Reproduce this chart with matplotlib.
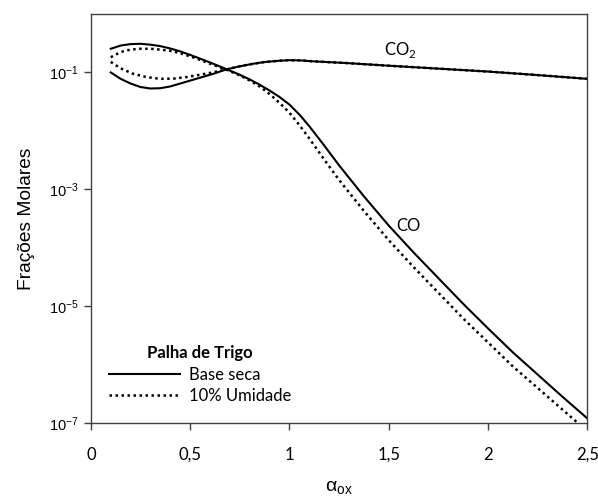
# Frações molares de CO e CO2 vs alpha_ox (palha de trigo)
import numpy as np
import matplotlib
matplotlib.use("Agg")
import matplotlib.pyplot as plt
from matplotlib.lines import Line2D

# log10 das fracoes
co_seca_x = [0.10, 0.15, 0.20, 0.25, 0.30, 0.35, 0.40, 0.45, 0.50, 0.57, 0.63,
             0.68, 0.75, 0.80, 0.85, 0.90, 0.95, 1.00, 1.05, 1.10, 1.175, 1.25,
             1.375, 1.50, 1.625, 1.75, 1.875, 2.00, 2.125, 2.25, 2.375, 2.50]
co_seca_log = [-0.595, -0.54, -0.515, -0.51, -0.525, -0.55, -0.59, -0.64, -0.70,
               -0.79, -0.87, -0.94, -1.04, -1.12, -1.21, -1.31, -1.42, -1.55,
               -1.72, -1.92, -2.25, -2.59, -3.12, -3.62, -4.08, -4.52, -4.96,
               -5.38, -5.79, -6.17, -6.55, -6.92]

co_umid_x = [0.10, 0.15, 0.20, 0.25, 0.30, 0.35, 0.40, 0.45, 0.53, 0.60, 0.68,
             0.75, 0.80, 0.85, 0.90, 0.95, 1.00, 1.05, 1.10, 1.175, 1.25, 1.375,
             1.50, 1.625, 1.75, 1.875, 2.00, 2.125, 2.25, 2.375, 2.50]
co_umid_log = [-0.74, -0.65, -0.61, -0.595, -0.595, -0.61, -0.63, -0.67, -0.76,
               -0.85, -0.95, -1.05, -1.14, -1.24, -1.37, -1.52, -1.69, -1.90,
               -2.13, -2.49, -2.84, -3.37, -3.87, -4.33, -4.77, -5.21, -5.62,
               -6.03, -6.40, -6.77, -7.14]

co2_seca_x = [0.10, 0.15, 0.20, 0.25, 0.30, 0.35, 0.40, 0.45, 0.50, 0.55, 0.62,
              0.68, 0.75, 0.82, 0.88, 0.95, 1.00, 1.06, 1.12, 1.29, 1.50, 1.75,
              2.00, 2.25, 2.50]
co2_seca_log = [-1.00, -1.11, -1.19, -1.25, -1.275, -1.27, -1.24, -1.19, -1.14,
                -1.09, -1.02, -0.95, -0.895, -0.85, -0.82, -0.80, -0.79, -0.795,
                -0.81, -0.84, -0.885, -0.935, -0.985, -1.045, -1.11]

co2_umid_x = [0.10, 0.15, 0.21, 0.28, 0.35, 0.42, 0.48, 0.55, 0.62, 0.68, 0.75,
              0.82, 0.88, 0.95, 1.00, 1.06, 1.12, 1.29, 1.50, 1.75, 2.00, 2.25,
              2.50]
co2_umid_log = [-0.82, -0.93, -1.02, -1.08, -1.11, -1.105, -1.08, -1.04, -0.995,
                -0.95, -0.895, -0.85, -0.82, -0.80, -0.79, -0.795, -0.81, -0.84,
                -0.885, -0.935, -0.985, -1.045, -1.11]

x_ticks = [0, 0.5, 1, 1.5, 2, 2.5]
x_labels = ["0", "0,5", "1", "1,5", "2", "2,5"]
y_ticks = [1e-7, 1e-5, 1e-3, 1e-1]
y_labels = [r"$\mathregular{10^{-7}}$", r"$\mathregular{10^{-5}}$",
            r"$\mathregular{10^{-3}}$", r"$\mathregular{10^{-1}}$"]

DOT = (0, (1, 1.4))
CAL = "Lato"
ARIAL = "Liberation Sans"

fig = plt.figure(figsize=(5.98, 5.0), dpi=100)
ax = fig.add_axes([0.152, 0.154, 0.830, 0.818])

def pw(v):
    return 10 ** np.array(v)

ax.plot(co_seca_x, pw(co_seca_log), color="black", lw=1.5)
ax.plot(co_umid_x, pw(co_umid_log), color="black", lw=1.8, ls=DOT)
ax.plot(co2_seca_x, pw(co2_seca_log), color="black", lw=1.5)
ax.plot(co2_umid_x, pw(co2_umid_log), color="black", lw=1.8, ls=DOT)

ax.set_yscale("log")
ax.set_xlim(0, 2.5)
ax.set_ylim(1e-7, 1)
ax.minorticks_off()
ax.set_xticks(x_ticks, labels=x_labels, fontfamily=CAL, fontsize=12)
ax.set_yticks(y_ticks, labels=y_labels, fontfamily=ARIAL, fontsize=10.5)
ax.tick_params(direction="out", length=5, width=1, color="#404040", pad=4)
ax.tick_params(axis="x", pad=12)

for s in ax.spines.values():
    s.set_color("#404040")
    s.set_linewidth(1)

ax.set_ylabel("Frações Molares", fontfamily=ARIAL, fontsize=13.8, labelpad=10)
ax.set_xlabel(r"α$_\mathregular{ox}$", fontfamily=ARIAL, fontsize=14, labelpad=12)

ax.text(1.56, 10 ** -0.62, r"CO$_\mathregular{2}$", fontfamily=CAL,
        fontsize=12, ha="center", va="center")
ax.text(1.60, 10 ** -3.62, "CO", fontfamily=CAL, fontsize=12,
        ha="center", va="center")

# legenda: titulo separado para acertar o espacamento
ax.text(0.22, 0.171, "Palha de Trigo", transform=ax.transAxes, fontfamily=CAL,
        fontsize=12, fontweight="bold", ha="center", va="center")
handles = [Line2D([], [], color="black", lw=1.5),
           Line2D([], [], color="black", lw=1.8, ls=DOT)]
leg = ax.legend(handles, ["Base seca", "10% Umidade"], loc="upper left",
                bbox_to_anchor=(0.036, 0.137), frameon=False, borderpad=0,
                borderaxespad=0, handlelength=4.3, handletextpad=0.5,
                labelspacing=0.32, prop={"family": CAL, "size": 12})

fig.savefig("out.png", dpi=100)
